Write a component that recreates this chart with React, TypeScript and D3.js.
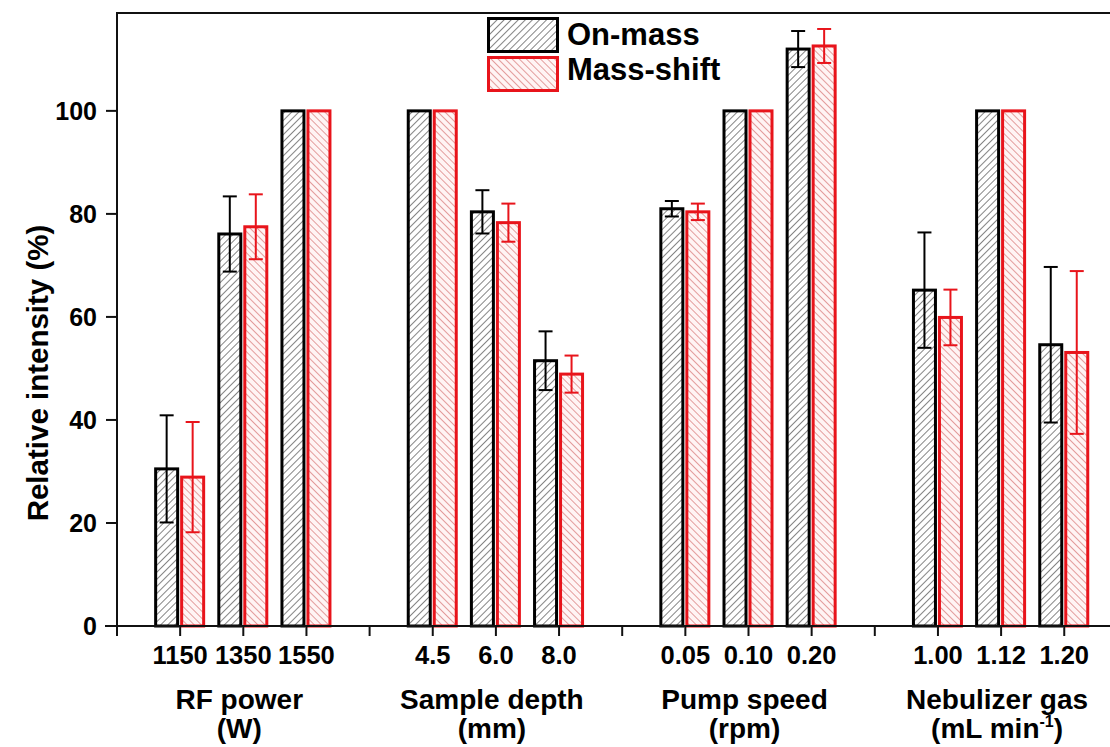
import React from "react";
import * as d3 from "d3";

// Optimisation parameters and their levels
const groups = ["RF power", "Sample depth", "Pump speed", "Nebulizer gas"];
const groupUnits = ["(W)", "(mm)", "(rpm)", "(mL min-1)"];
const categories = ["1150", "1350", "1550", "4.5", "6.0", "8.0", "0.05", "0.10", "0.20", "1.00", "1.12", "1.20"];

// Relative intensity (%) and standard deviations
const onMass = [30.5, 76.1, 100, 100, 80.4, 51.5, 81.0, 100, 112.0, 65.2, 100, 54.6];
const onMassErr = [10.4, 7.3, 0, 0, 4.2, 5.7, 1.5, 0, 3.5, 11.2, 0, 15.1];
const massShift = [28.9, 77.5, 100, 100, 78.3, 48.9, 80.4, 100, 112.6, 59.9, 100, 53.1];
const massShiftErr = [10.7, 6.3, 0, 0, 3.7, 3.6, 1.6, 0, 3.3, 5.4, 0, 15.8];

const yTicks = [0, 20, 40, 60, 80, 100];

const W = 1110;
const H = 747;
const FONT = "'Liberation Sans', Arial, sans-serif";
const RED = "#e8141b";

export default function App() {
  // each group holds three levels followed by one empty slot
  const slotOf = (i: number) => Math.floor(i / 3) * 4 + (i % 3) + 1;
  const x = d3.scaleLinear().domain([0, 16]).range([117, 117 + 16 * 63.15]);
  const y = d3.scaleLinear().domain([0, 119]).range([626, 13]);
  const tickSlots = d3.range(0, 17);

  const barW = 22;
  const sw = 3;
  const capW = 14;

  const series = [
    { name: "On-mass", values: onMass, errs: onMassErr, color: "#000", fill: "url(#hatchBlack)", side: -1 },
    { name: "Mass-shift", values: massShift, errs: massShiftErr, color: RED, fill: "url(#hatchRed)", side: 1 },
  ];

  return (
    <svg width={W} height={H} style={{ position: "absolute", left: 0, top: 0, background: "#fff" }} fontFamily={FONT}>
      <defs>
        <pattern id="hatchBlack" patternUnits="userSpaceOnUse" width={5} height={5} patternTransform="rotate(45)">
          <rect width={5} height={5} fill="#fff" />
          <line x1={0} y1={0} x2={0} y2={5} stroke="#333" strokeWidth={1.2} />
        </pattern>
        <pattern id="hatchRed" patternUnits="userSpaceOnUse" width={5} height={5} patternTransform="rotate(-45)">
          <rect width={5} height={5} fill="#fff4f4" />
          <line x1={0} y1={0} x2={0} y2={5} stroke="#d06060" strokeWidth={1.2} />
        </pattern>
      </defs>

      {/* bars */}
      {series.map((s) =>
        categories.map((c, i) => {
          const cx = x(slotOf(i));
          const left = s.side < 0 ? cx - 1 - sw / 2 - barW : cx + sw / 2;
          const top = y(s.values[i]);
          return (
            <rect
              key={s.name + c}
              x={left}
              y={top}
              width={barW}
              height={y(0) - top}
              fill={s.fill}
              stroke={s.color}
              strokeWidth={sw}
            />
          );
        })
      )}

      {/* error bars */}
      {series.map((s) =>
        categories.map((c, i) => {
          if (!s.errs[i]) return null;
          const cx = x(slotOf(i));
          const mid = s.side < 0 ? cx - 1 - sw / 2 - barW / 2 : cx + sw / 2 + barW / 2;
          const hi = y(s.values[i] + s.errs[i]);
          const lo = y(s.values[i] - s.errs[i]);
          return (
            <g key={"e" + s.name + c} stroke={s.color} strokeWidth={2}>
              <line x1={mid} x2={mid} y1={hi} y2={lo} />
              <line x1={mid - capW / 2} x2={mid + capW / 2} y1={hi} y2={hi} />
              <line x1={mid - capW / 2} x2={mid + capW / 2} y1={lo} y2={lo} />
            </g>
          );
        })
      )}

      {/* frame and axes */}
      <line x1={117} x2={W} y1={13} y2={13} stroke="#111" strokeWidth={2} />
      <line x1={117} x2={117} y1={12} y2={636} stroke="#111" strokeWidth={2} />
      <line x1={105} x2={W} y1={626} y2={626} stroke="#111" strokeWidth={2} />
      {tickSlots.map((t) => (
        <line key={"xt" + t} x1={x(t)} x2={x(t)} y1={626} y2={636} stroke="#111" strokeWidth={2} />
      ))}
      {yTicks.map((t) => (
        <g key={"yt" + t}>
          <line x1={106} x2={117} y1={y(t)} y2={y(t)} stroke="#111" strokeWidth={2} />
          <text x={97} y={y(t) + 9} textAnchor="end" fontSize={25} fontWeight="bold" fill="#000">
            {t}
          </text>
        </g>
      ))}

      {/* category labels */}
      {categories.map((c, i) => (
        <text key={"cl" + c + i} x={x(slotOf(i))} y={664} textAnchor="middle" fontSize={25.5} fontWeight="bold" fill="#000">
          {c}
        </text>
      ))}

      {/* group labels */}
      {groups.map((g, gi) => {
        const cx = x(gi * 4 + 2);
        const unit = groupUnits[gi];
        return (
          <g key={g}>
            <text x={cx - 4} y={709} textAnchor="middle" fontSize={28} fontWeight="bold" fill="#000">
              {g}
            </text>
            <text x={cx - 4} y={738} textAnchor="middle" fontSize={28} fontWeight="bold" fill="#000">
              {unit === "(mL min-1)" ? (
                <>
                  {"(mL min"}
                  <tspan dy={-11} fontSize={16}>
                    -1
                  </tspan>
                  <tspan dy={11}>)</tspan>
                </>
              ) : (
                unit
              )}
            </text>
          </g>
        );
      })}

      {/* y-axis title */}
      <text
        transform="translate(48,373) rotate(-90)"
        textAnchor="middle"
        fontSize={29.5}
        fontWeight="bold"
        fill="#000"
      >
        Relative intensity (%)
      </text>

      {/* legend */}
      {series.map((s, k) => (
        <g key={"lg" + s.name}>
          <rect x={488.5} y={18.5 + k * 39} width={69} height={33} fill={s.fill} stroke={s.color} strokeWidth={3} />
          <text x={567} y={45 + k * 35} fontSize={31} fontWeight="bold" fill="#000">
            {s.name}
          </text>
        </g>
      ))}
    </svg>
  );
}
